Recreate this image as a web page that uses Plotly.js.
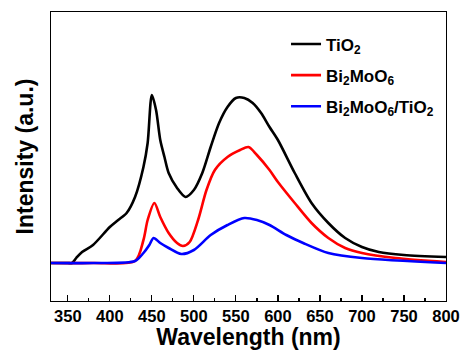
<!DOCTYPE html>
<html>
<head>
<meta charset="utf-8">
<script src="https://cdn.plot.ly/plotly-3.0.1.min.js"></script>
<style>html,body{margin:0;padding:0;background:#fff;}#chart{width:463px;height:350px;}</style>
</head>
<body>
<div id="chart"></div>
<script>
// Wavelength (nm) and intensity (a.u., arbitrary scale)
const tio2X = [330, 350, 355, 360, 367, 380, 400, 410, 420, 430, 440, 445, 450, 455, 460, 465, 470, 480, 490, 500, 510, 520, 530, 540, 550, 560, 570, 580, 590, 600, 620, 640, 660, 680, 700, 720, 750, 800];
const tio2Y = [38, 38, 38, 43, 49, 56, 74, 81, 88, 104, 134, 158, 206, 191, 161, 144, 128, 113, 104, 111, 128, 154, 178, 194, 203, 203, 198, 188, 174, 161, 128, 98, 78, 63, 54, 49, 46, 44];

const bmoX = [330, 380, 430, 440, 445, 453, 460, 470, 480, 487, 495, 505, 515, 525, 540, 555, 565, 575, 590, 600, 620, 640, 660, 680, 700, 740, 800];
const bmoY = [38, 38, 40, 61, 81, 98, 84, 68, 58, 55, 59, 81, 111, 131, 144, 151, 154, 146, 131, 119, 98, 78, 63, 53, 48, 43, 39];

const compX = [330, 380, 430, 440, 447, 452, 460, 470, 485, 500, 520, 540, 560, 575, 590, 610, 630, 660, 700, 800];
const compY = [38, 38, 40, 48, 56, 63, 58, 53, 47, 51, 66, 76, 83, 81, 76, 66, 58, 48, 43, 38];

const names = ['TiO<sub>2</sub>', 'Bi<sub>2</sub>MoO<sub>6</sub>', 'Bi<sub>2</sub>MoO<sub>6</sub>/TiO<sub>2</sub>'];
const colors = ['#000000', '#ff0000', '#0000ff'];

const xs = [tio2X, bmoX, compX];
const ys = [tio2Y, bmoY, compY];
const data = xs.map((x, i) => ({
  x: x, y: ys[i], type: 'scatter', mode: 'lines', name: names[i], legendgroup: 'g' + i,
  line: {color: colors[i], width: 2.6, shape: 'spline', smoothing: 0.8}
}));

const bold = {family: 'Liberation Sans, Arial, sans-serif', weight: 'bold', color: '#000'};
const layout = {
  width: 463, height: 350,
  margin: {l: 51, r: 17, t: 12, b: 49},
  paper_bgcolor: '#fff', plot_bgcolor: '#fff',
  showlegend: true,
  legend: {x: 0.595, y: 0.95, xanchor: 'left', yanchor: 'top', bgcolor: 'rgba(0,0,0,0)',
           font: Object.assign({size: 17}, bold), tracegroupgap: 6, itemwidth: 30},
  xaxis: {
    range: [330, 800], showgrid: false, zeroline: false,
    showline: true, linecolor: '#000', linewidth: 1.2, mirror: true,
    ticks: 'inside', ticklen: 6, tickwidth: 1.2, tickcolor: '#000',
    tickvals: [350, 400, 450, 500, 550, 600, 650, 700, 750, 800],
    minor: {tickvals: [375, 425, 475, 525, 575, 625, 675, 725, 775], ticks: 'inside', ticklen: 3, tickwidth: 1.2, tickcolor: '#000'},
    tickfont: Object.assign({size: 16.5}, bold),
    title: {text: 'Wavelength (nm)', font: Object.assign({size: 23}, bold), standoff: 1}
  },
  yaxis: {
    range: [0, 289], showgrid: false, zeroline: false,
    showline: true, linecolor: '#000', linewidth: 1.2, mirror: true,
    ticks: '', showticklabels: false,
    title: {text: 'Intensity (a.u.)', font: Object.assign({size: 23}, bold), standoff: 9}
  }
};

Plotly.newPlot('chart', data, layout, {displayModeBar: false, staticPlot: true});
</script>
</body>
</html>
